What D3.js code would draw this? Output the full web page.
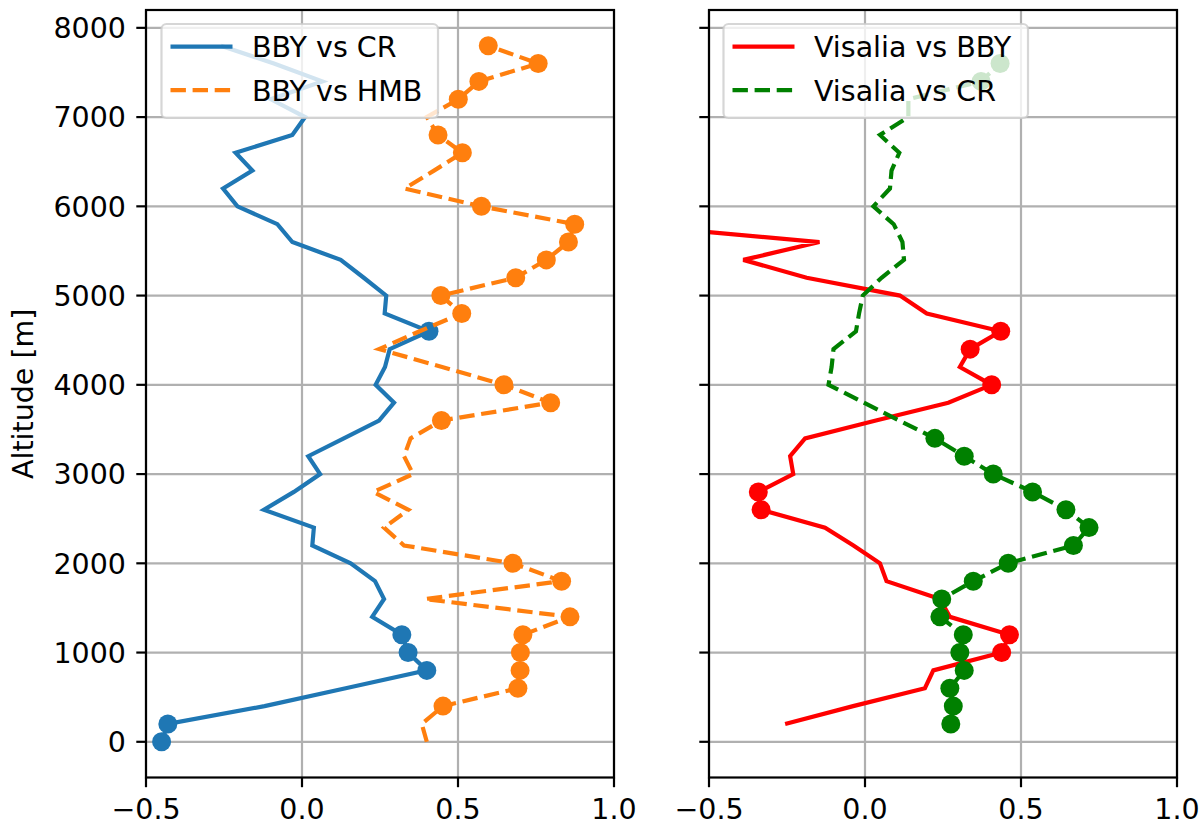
<!DOCTYPE html>
<html>
<head>
<meta charset="utf-8">
<script src="https://cdn.jsdelivr.net/npm/d3@7"></script>
<style>
  body { margin: 0; background: #fff; }
  svg { display: block; font-family: "DejaVu Sans", sans-serif; }
</style>
</head>
<body>
<svg id="chart" width="1204" height="827"></svg>
<script>
// altitude levels [m]
const altitudes = [0, 200, 400, 600, 800, 1000, 1200, 1400, 1600, 1800,
  2000, 2200, 2400, 2600, 2800, 3000, 3200, 3400, 3600, 3800,
  4000, 4200, 4400, 4600, 4800, 5000, 5200, 5400, 5600, 5800,
  6000, 6200, 6400, 6600, 6800, 7000, 7200, 7400, 7600, 7800];

const bbyVsCr = [-0.45, -0.43, -0.12, 0.14, 0.40, 0.34, 0.32, 0.225, 0.263, 0.234,
  0.156, 0.033, 0.038, -0.122, -0.026, 0.058, 0.02, 0.134, 0.247, 0.295,
  0.236, 0.266, 0.281, 0.407, 0.265, 0.27, 0.198, 0.124, -0.031, -0.079,
  -0.207, -0.253, -0.159, -0.213, -0.031, 0.01, -0.10, 0.065, -0.09, -0.26];
const bbyVsCrMarked = [0, 200, 800, 1000, 1200, 4600];

const bbyVsHmb = [0.40, 0.384, 0.452, 0.692, 0.699, 0.70, 0.708, 0.859, 0.394, 0.832,
  0.676, 0.327, 0.263, 0.341, 0.229, 0.356, 0.327, 0.348, 0.447, 0.797,
  0.647, 0.449, 0.247, 0.377, 0.512, 0.445, 0.685, 0.783, 0.854, 0.874,
  0.575, 0.329, 0.423, 0.514, 0.436, 0.40, 0.501, 0.567, 0.757, 0.597];
const bbyVsHmbMarked = [400, 600, 800, 1000, 1200, 1400, 1800, 2000, 3600, 3800,
  4000, 4800, 5000, 5200, 5400, 5600, 5800, 6000, 6600, 6800, 7200, 7400, 7600, 7800];

const visaliaVsBby = [null, -0.256, -0.038, 0.192, 0.219, 0.438, 0.463, 0.272, 0.24, 0.069,
  0.048, -0.037, -0.128, -0.333, -0.342, -0.23, -0.24, -0.192, 0.035, 0.267,
  0.406, 0.304, 0.337, 0.435, 0.198, 0.112, -0.187, -0.39, -0.146, -0.79,
  null, null, null, null, null, null, null, null, null, null];
const visaliaVsBbyMarked = [1000, 1200, 2600, 2800, 4000, 4400, 4600];

const visaliaVsCr = [null, 0.275, 0.283, 0.272, 0.318, 0.304, 0.315, 0.24, 0.246, 0.347,
  0.459, 0.668, 0.718, 0.644, 0.537, 0.411, 0.318, 0.224, 0.11, -0.004,
  -0.117, -0.107, -0.101, -0.029, -0.019, -0.007, 0.053, 0.125, 0.12, 0.092,
  0.027, 0.08, 0.085, 0.11, 0.048, 0.139, 0.139, 0.372, 0.433, null];
const visaliaVsCrMarked = [200, 400, 600, 800, 1000, 1200, 1400, 1600, 1800, 2000,
  2200, 2400, 2600, 2800, 3000, 3200, 3400, 7400, 7600];

const xTicks = [-0.5, 0, 0.5, 1.0];
const yTicks = [0, 1000, 2000, 3000, 4000, 5000, 6000, 7000, 8000];

const panels = [
  { id: "left", x0: 146, x1: 614, yLabels: true, series: [
    { label: "BBY vs CR", values: bbyVsCr, marked: bbyVsCrMarked, color: "#1f77b4" },
    { label: "BBY vs HMB", values: bbyVsHmb, marked: bbyVsHmbMarked, color: "#ff7f0e", dash: "15.4,6.7" },
  ], legend: { x: 161.5, w: 276.5 } },
  { id: "right", x0: 709, x1: 1177, yLabels: false, series: [
    { label: "Visalia vs BBY", values: visaliaVsBby, marked: visaliaVsBbyMarked, color: "#ff0000" },
    { label: "Visalia vs CR", values: visaliaVsCr, marked: visaliaVsCrMarked, color: "#008000", dash: "15.4,6.7" },
  ], legend: { x: 723.5, w: 304.5 } },
];

const svg = d3.select("#chart");
const plotTop = 10, plotBottom = 777.5;
const fontSize = 28.5;
const fmtX = d => d3.format(".1f")(d).replace("-", "\u2212");

const y = d3.scaleLinear().domain([-400, 8200]).range([plotBottom, plotTop]);

panels.forEach(p => {
  const x = d3.scaleLinear().domain([-0.5, 1.0]).range([p.x0, p.x1]);
  const g = svg.append("g");

  g.append("clipPath").attr("id", "clip-" + p.id)
    .append("rect").attr("x", p.x0).attr("y", plotTop).attr("width", p.x1 - p.x0).attr("height", plotBottom - plotTop);

  // grid
  g.selectAll(".gx").data(xTicks).join("line")
    .attr("x1", d => x(d)).attr("x2", d => x(d)).attr("y1", plotTop).attr("y2", plotBottom)
    .attr("stroke", "#b0b0b0").attr("stroke-width", 2.2);
  g.selectAll(".gy").data(yTicks).join("line")
    .attr("x1", p.x0).attr("x2", p.x1).attr("y1", d => y(d)).attr("y2", d => y(d))
    .attr("stroke", "#b0b0b0").attr("stroke-width", 2.2);

  const plot = g.append("g").attr("clip-path", `url(#clip-${p.id})`);

  p.series.forEach(s => {
    const pts = altitudes.map((a, i) => ({ a, v: s.values[i] }));
    const line = d3.line()
      .defined(d => d.v !== null)
      .x(d => x(d.v)).y(d => y(d.a));
    const path = plot.append("path").datum(pts)
      .attr("fill", "none").attr("stroke", s.color).attr("stroke-width", 4.2)
      .attr("stroke-linejoin", "miter").attr("d", line);
    if (s.dash) path.attr("stroke-dasharray", s.dash);

    plot.selectAll(null).data(pts.filter(d => s.marked.includes(d.a) && d.v !== null))
      .join("circle")
      .attr("cx", d => x(d.v)).attr("cy", d => y(d.a)).attr("r", 9.5)
      .attr("fill", s.color);
  });

  // spines
  g.append("rect").attr("x", p.x0).attr("y", plotTop).attr("width", p.x1 - p.x0).attr("height", plotBottom - plotTop)
    .attr("fill", "none").attr("stroke", "#000").attr("stroke-width", 2.2);

  // x ticks
  xTicks.forEach(t => {
    g.append("line").attr("x1", x(t)).attr("x2", x(t)).attr("y1", plotBottom).attr("y2", plotBottom + 9.7)
      .attr("stroke", "#000").attr("stroke-width", 2.2);
    g.append("text").attr("x", x(t)).attr("y", 819).attr("text-anchor", "middle")
      .attr("font-size", fontSize).text(fmtX(t));
  });

  // y ticks
  yTicks.forEach(t => {
    g.append("line").attr("x1", p.x0 - 9.7).attr("x2", p.x0).attr("y1", y(t)).attr("y2", y(t))
      .attr("stroke", "#000").attr("stroke-width", 2.2);
    if (p.yLabels) {
      g.append("text").attr("x", p.x0 - 20).attr("y", y(t) + 10.4).attr("text-anchor", "end")
        .attr("font-size", fontSize).text(t);
    }
  });

  // legend
  const lg = g.append("g");
  lg.append("rect").attr("x", p.legend.x).attr("y", 24).attr("width", p.legend.w).attr("height", 94)
    .attr("rx", 5).attr("fill", "#fff").attr("fill-opacity", 0.8)
    .attr("stroke", "#cccccc").attr("stroke-opacity", 0.8).attr("stroke-width", 2.2);
  p.series.forEach((s, i) => {
    const ly = 46.7 + i * 43.5;
    const l = lg.append("line").attr("x1", p.legend.x + 9).attr("x2", p.legend.x + 71)
      .attr("y1", ly).attr("y2", ly).attr("stroke", s.color).attr("stroke-width", 4.2);
    if (s.dash) l.attr("stroke-dasharray", s.dash);
    lg.append("text").attr("x", p.legend.x + 90.5).attr("y", ly + 10.4)
      .attr("font-size", fontSize).text(s.label);
  });
});

svg.append("text")
  .attr("transform", `translate(33,${(plotTop + plotBottom) / 2}) rotate(-90)`)
  .attr("text-anchor", "middle").attr("font-size", fontSize).text("Altitude [m]");
</script>
</body>
</html>
